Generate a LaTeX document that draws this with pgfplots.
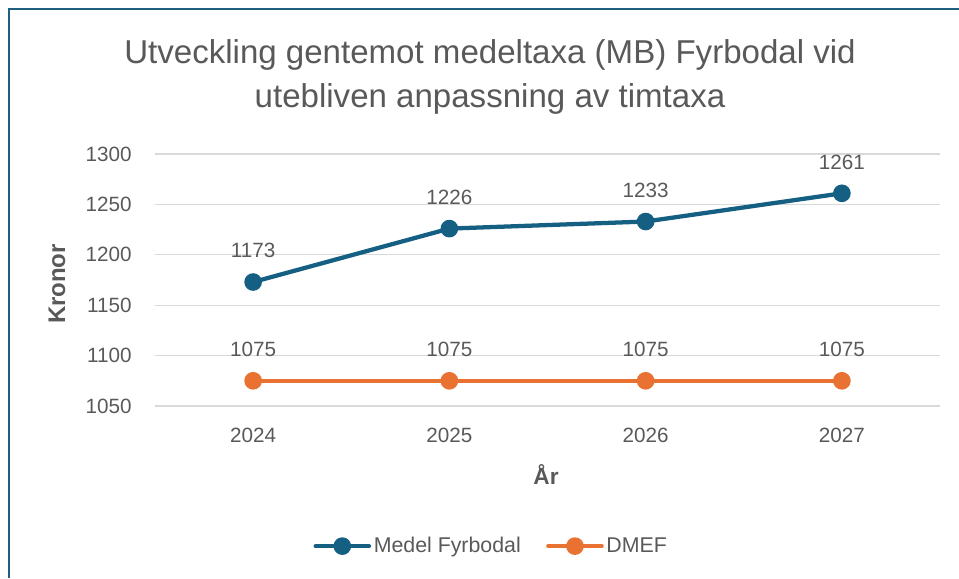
\documentclass[border=0pt]{standalone}
\usepackage{pgfplots}
\pgfplotsset{compat=1.18}
\usepackage{fontspec}
\setmainfont{Liberation Sans}
\definecolor{fblue}{HTML}{156082}
\definecolor{forange}{HTML}{E97132}
\definecolor{txt}{HTML}{595959}
\definecolor{grd}{HTML}{D9D9D9}
\definecolor{frame}{HTML}{1F5F80}
\begin{document}
\begin{tikzpicture}
\begin{axis}[
  name=ax,
  scale only axis, width=588.75pt, height=189pt,
  xmin=-0.5, xmax=3.5, ymin=1050, ymax=1300,
  xtick={0,1,2,3}, xticklabels={2024,2025,2026,2027},
  ytick={1050,1100,...,1300},
  ymajorgrids, major grid style={grd,line width=1pt},
  axis line style={draw=none},
  major tick length=0pt,
  tick label style={txt,font=\fontsize{15.5}{18}\selectfont},
  /pgf/number format/assume math mode=true,
  /pgf/number format/set thousands separator={},
  xticklabel style={yshift=-13pt},
  yticklabel style={xshift=-14pt},
  clip=false,
  legend style={at={(0.4287,-0.556)},anchor=center,draw=none,fill=none,
    legend columns=2, font=\fontsize{16}{18}\selectfont, text=txt,
    inner sep=0pt,
    /tikz/every odd column/.append style={column sep=0pt},
    /tikz/every even column/.append style={column sep=17pt}},
  legend image code/.code={
    \draw[#1,line width=3.2pt,line cap=round] (0pt,0pt) -- (40pt,0pt);
    \fill[#1] (20pt,0pt) circle (5pt);
  },
  nodes near coords,
  point meta=explicit symbolic,
  every node near coord/.append style={txt,font=\fontsize{15.5}{18}\selectfont,anchor=south,yshift=13pt},
]
\addplot[fblue,line width=3.2pt,mark=*,mark size=5pt,mark options={fblue}] coordinates {(0,1173)[1173] (1,1226)[1226] (2,1233)[1233] (3,1261)[1261]};
\addlegendentry{Medel Fyrbodal}
\addplot[forange,line width=3.2pt,mark=*,mark size=5pt,mark options={forange}] coordinates {(0,1075)[1075] (1,1075)[1075] (2,1075)[1075] (3,1075)[1075]};
\addlegendentry{DMEF}
\end{axis}
\begin{scope}[shift={(ax.south west)},x=0.75pt,y=-0.75pt,shift={(-155,-406)}]
\pgfresetboundingbox
\useasboundingbox (0,0) rectangle (959,578);
\draw[frame,line width=1.5pt] (9,578) -- (9,9.5) -- (959,9.5);
\node[txt,font=\fontsize{24.8}{33.5}\selectfont,align=center] at (490,77) {Utveckling gentemot medeltaxa (MB) Fyrbodal vid\\utebliven anpassning av timtaxa};
\node[txt,font=\fontsize{18}{20}\selectfont\bfseries,rotate=90] at (57,284) {Kronor};
\node[txt,font=\fontsize{17}{20}\selectfont\bfseries] at (546,475) {År};
\end{scope}
\end{tikzpicture}
\end{document}
